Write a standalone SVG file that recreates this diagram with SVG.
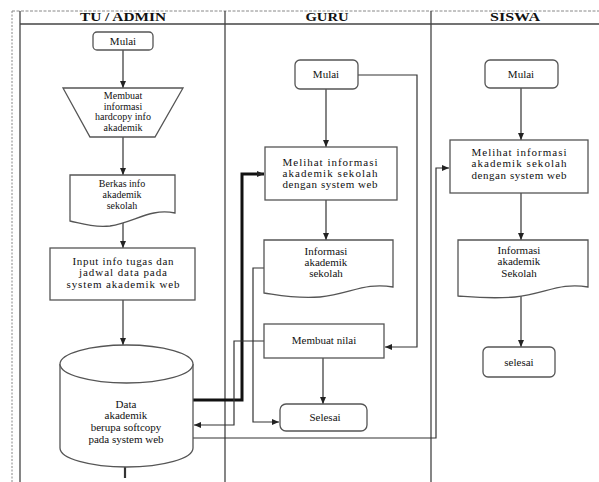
<svg xmlns="http://www.w3.org/2000/svg" width="599" height="482" viewBox="0 0 599 482">
<defs>
<marker id="ar" markerWidth="8" markerHeight="8" refX="7" refY="4" orient="auto" markerUnits="userSpaceOnUse">
<path d="M0,1 L7,4 L0,7 Z" fill="#222"/>
</marker>
<style>
.lane{stroke:#444;stroke-width:1.3;fill:none}
.node{fill:#fff;stroke:#555;stroke-width:1.3}
.t{font-family:"Liberation Serif","Times New Roman",serif;font-size:11px;fill:#111;text-anchor:middle}
.s{font-size:10px}
.h{font-family:"Liberation Serif","Times New Roman",serif;font-size:12px;font-weight:bold;fill:#111;text-anchor:middle}
.c{stroke:#333;stroke-width:1.2;fill:none}
.ca{stroke:#333;stroke-width:1.2;fill:none;marker-end:url(#ar)}
.thick{stroke:#111;stroke-width:3;fill:none;marker-end:url(#ar)}
</style>
</defs>
<rect width="599" height="482" fill="#fff"/>
<g id="lanes">
<line x1="12" y1="11" x2="12" y2="482" stroke="#888" stroke-width="1" stroke-dasharray="2,1.5"/>
<line x1="12" y1="11" x2="599" y2="11" stroke="#888" stroke-width="1" stroke-dasharray="3,1.5"/>
<line class="lane" x1="20" y1="11" x2="20" y2="482"/>
<line class="lane" x1="20" y1="24" x2="599" y2="24"/>
<line class="lane" x1="225" y1="11" x2="225" y2="482"/>
<line class="lane" x1="431" y1="11" x2="431" y2="482"/>
<text class="h" x="123" y="21" textLength="86" lengthAdjust="spacingAndGlyphs">TU / ADMIN</text>
<text class="h" x="327" y="21" textLength="43" lengthAdjust="spacingAndGlyphs">GURU</text>
<text class="h" x="515" y="21" textLength="50" lengthAdjust="spacingAndGlyphs">SISWA</text>
</g>
<g id="connectors">
<line class="ca" x1="123" y1="50" x2="123" y2="88"/>
<line class="ca" x1="123" y1="137" x2="123" y2="175"/>
<line class="ca" x1="123" y1="221" x2="123" y2="248"/>
<line class="ca" x1="123" y1="300" x2="123" y2="345"/>
<line x1="125" y1="467" x2="125" y2="478" stroke="#333" stroke-width="2.2"/>
<polyline class="thick" points="193,400 242,400 242,174 264,174"/>
<polyline class="ca" points="264,341 234,341 234,425 194,425"/>
<polyline class="ca" points="264,268 253,268 253,422 279,422"/>
<polyline class="ca" points="193,438 436,438 436,168 449,168"/>
<line class="ca" x1="326" y1="89" x2="326" y2="147"/>
<line class="ca" x1="326" y1="200" x2="326" y2="240"/>
<polyline class="ca" points="358,75 417,75 417,347 385,347"/>
<line class="ca" x1="323" y1="358" x2="323" y2="404"/>
<line class="ca" x1="521" y1="88" x2="521" y2="140"/>
<line class="ca" x1="521" y1="193" x2="521" y2="240"/>
<line class="ca" x1="521" y1="294" x2="521" y2="347"/>
</g>
<g id="tu-mulai">
<rect class="node" x="93" y="32" width="60" height="18" rx="4"/>
<text class="t" x="123" y="45">Mulai</text>
</g>
<g id="tu-manual">
<polygon class="node" points="63,88 183,88 155,137 90,137"/>
<text class="t s" x="123" y="99">Membuat</text>
<text class="t s" x="123" y="109.5">informasi</text>
<text class="t s" x="123" y="120">hardcopy info</text>
<text class="t s" x="123" y="130.5">akademik</text>
</g>
<g id="tu-doc">
<path class="node" d="M70,175 H175 V213 C150,208 135,222 110,226 C92,228 80,223 70,221 Z"/>
<text class="t s" x="122" y="187">Berkas info</text>
<text class="t s" x="122" y="198">akademik</text>
<text class="t s" x="122" y="209">sekolah</text>
</g>
<g id="tu-input">
<rect class="node" x="50" y="248" width="145" height="52"/>
<text class="t" x="123" y="265" textLength="101" lengthAdjust="spacing">Input info tugas dan</text>
<text class="t" x="123" y="276" textLength="88" lengthAdjust="spacing">jadwal data pada</text>
<text class="t" x="123" y="288" textLength="113" lengthAdjust="spacing">system akademik web</text>
</g>
<g id="tu-data">
<path class="node" d="M60,364 V448 A66.5,19 0 0 0 193,448 V364"/>
<ellipse class="node" cx="126.5" cy="364" rx="66.5" ry="19"/>
<text class="t" x="126" y="408">Data</text>
<text class="t" x="126" y="419">akademik</text>
<text class="t" x="126" y="431">berupa softcopy</text>
<text class="t" x="126" y="443">pada system web</text>
</g>
<g id="guru-mulai">
<rect class="node" x="295" y="60" width="63" height="29" rx="5"/>
<text class="t" x="326" y="78">Mulai</text>
</g>
<g id="guru-lihat">
<rect class="node" x="265" y="147" width="132" height="53"/>
<text class="t" x="330" y="166" textLength="95" lengthAdjust="spacing">Melihat informasi</text>
<text class="t" x="330" y="177" textLength="95" lengthAdjust="spacing">akademik sekolah</text>
<text class="t" x="330" y="188" textLength="95" lengthAdjust="spacing">dengan system web</text>
</g>
<g id="guru-doc">
<path class="node" d="M264,240 H393 V287 C365,282 350,294 320,297 C295,299 278,295 264,293 Z"/>
<text class="t" x="326" y="255">Informasi</text>
<text class="t" x="326" y="266">akademik</text>
<text class="t" x="326" y="277">sekolah</text>
</g>
<g id="guru-nilai">
<rect class="node" x="264" y="324" width="120" height="34"/>
<text class="t" x="324" y="344">Membuat nilai</text>
</g>
<g id="guru-selesai">
<rect class="node" x="280" y="404" width="87" height="27" rx="6"/>
<text class="t" x="325" y="421">Selesai</text>
</g>
<g id="siswa-mulai">
<rect class="node" x="485" y="60" width="73" height="28" rx="5"/>
<text class="t" x="521" y="78">Mulai</text>
</g>
<g id="siswa-lihat">
<rect class="node" x="450" y="140" width="138" height="53"/>
<text class="t" x="519" y="156" textLength="95" lengthAdjust="spacing">Melihat informasi</text>
<text class="t" x="519" y="167" textLength="95" lengthAdjust="spacing">akademik sekolah</text>
<text class="t" x="519" y="179" textLength="95" lengthAdjust="spacing">dengan system web</text>
</g>
<g id="siswa-doc">
<path class="node" d="M458,240 H588 V287 C560,282 545,294 515,297 C490,299 472,297 458,296 Z"/>
<text class="t" x="519" y="254">Informasi</text>
<text class="t" x="519" y="265">akademik</text>
<text class="t" x="519" y="277">Sekolah</text>
</g>
<g id="siswa-selesai">
<rect class="node" x="483" y="347" width="72" height="30" rx="5"/>
<text class="t" x="519" y="366">selesai</text>
</g>
</svg>
